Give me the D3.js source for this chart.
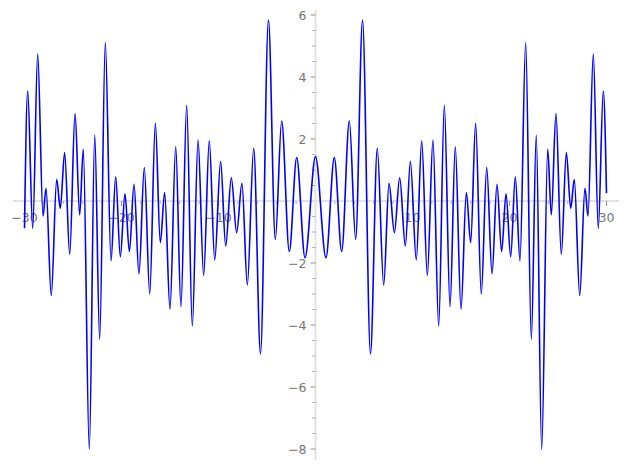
<!DOCTYPE html>
<html>
<head>
<meta charset="utf-8">
<script src="https://cdn.jsdelivr.net/npm/d3@7"></script>
<style>
  body { margin: 0; background: white; }
  text { font-family: "DejaVu Sans", sans-serif; }
</style>
</head>
<body>
<div id="container"></div>
<script>
let w = 627;
let h = 468;

// curve turning points (x, y)
let xs = [
  -30.00, -29.67, -29.15, -28.64, -28.09, -27.78, -27.24, -26.68, -26.31, -25.86,
  -25.34, -24.79, -24.31, -23.94, -23.32, -22.76, -22.25, -21.67, -21.08, -20.60,
  -20.12, -19.64, -19.19, -18.71, -18.20, -17.65, -17.09, -16.51, -16.00, -15.55,
  -15.00, -14.41, -13.87, -13.28, -12.70, -12.11, -11.53, -10.95, -10.39, -9.78,
  -9.26, -8.68, -8.13, -7.58, -7.03, -6.37, -5.67, -4.85, -4.14, -3.49,
  -2.70, -1.94, -1.08, 0.00,
  1.08, 1.94, 2.70, 3.49, 4.14, 4.85, 5.67, 6.37, 7.03, 7.58,
  8.13, 8.68, 9.26, 9.78, 10.39, 10.95, 11.53, 12.11, 12.70, 13.28,
  13.87, 14.41, 15.00, 15.55, 16.00, 16.51, 17.09, 17.65, 18.20, 18.71,
  19.19, 19.64, 20.12, 20.60, 21.08, 21.67, 22.25, 22.76, 23.32, 23.94,
  24.31, 24.79, 25.34, 25.86, 26.31, 26.68, 27.24, 27.78, 28.09, 28.64,
  29.15, 29.67, 30.00
];
let ys = [
  -0.88, 3.55, -0.88, 4.74, -0.48, 0.41, -3.05, 0.70, -0.24, 1.56,
  -1.72, 2.82, -0.45, 1.67, -8.01, 2.13, -4.46, 5.11, -1.93, 0.78,
  -1.80, 0.23, -1.63, 0.54, -2.35, 1.08, -3.00, 2.51, -1.34, 0.27,
  -3.49, 1.75, -3.41, 3.09, -4.03, 1.97, -2.40, 1.94, -1.90, 1.28,
  -1.45, 0.75, -1.02, 0.57, -2.71, 1.70, -4.93, 5.84, -1.24, 2.58,
  -1.63, 1.40, -1.83, 1.43,
  -1.83, 1.40, -1.63, 2.58, -1.24, 5.84, -4.93, 1.70, -2.71, 0.57,
  -1.02, 0.75, -1.45, 1.28, -1.90, 1.94, -2.40, 1.97, -4.03, 3.09,
  -3.41, 1.75, -3.49, 0.27, -1.34, 2.51, -3.00, 1.08, -2.35, 0.54,
  -1.63, 0.23, -1.80, 0.78, -1.93, 5.11, -4.46, 2.13, -8.01, 1.67,
  -0.45, 2.82, -1.72, 1.56, -0.24, 0.70, -3.05, 0.41, -0.48, 4.74,
  -0.88, 3.55, 0.25
];

let xTickLabels = [-30, -20, -10, 10, 20, 30];
let yTickLabels = [-8, -6, -4, -2, 2, 4, 6];

let data = xs.map((x, i) => ({x: x, y: ys[i]}));

let viz = d3.select("#container")
  .append("svg")
  .attr("width", w)
  .attr("height", h)
  .style("background-color", "white");

let xScale = d3.scaleLinear().domain([-30, 30]).range([24.5, 606.5]);
let yScale = d3.scaleLinear().domain([6, -8]).range([15, 449]);

let x0 = xScale(0);
let y0 = yScale(0);

// spines through the origin
viz.append("line")
  .attr("x1", 13).attr("x2", 619)
  .attr("y1", y0).attr("y2", y0)
  .attr("stroke", "#e3e3e3").attr("stroke-width", 2);

viz.append("line")
  .attr("x1", x0).attr("x2", x0)
  .attr("y1", 10).attr("y2", 460)
  .attr("stroke", "#e3e3e3").attr("stroke-width", 2);

// minor ticks
let xMinor = d3.range(-30, 31, 2).filter(d => d % 10 != 0);
viz.selectAll(".xMinor").data(xMinor).enter()
  .append("line")
  .attr("x1", d => xScale(d)).attr("x2", d => xScale(d))
  .attr("y1", y0).attr("y2", y0 + 3)
  .attr("stroke", "#999").attr("stroke-width", 0.8);

let yMinor = d3.range(-8, 6.01, 0.5).filter(d => d % 2 != 0);
viz.selectAll(".yMinor").data(yMinor).enter()
  .append("line")
  .attr("x1", x0 - 3.3).attr("x2", x0)
  .attr("y1", d => yScale(d)).attr("y2", d => yScale(d))
  .attr("stroke", "#999").attr("stroke-width", 0.8);

// major ticks + labels
let fmt = d => (d < 0 ? "\u2212" : "") + Math.abs(d);

viz.selectAll(".xMajor").data(xTickLabels).enter()
  .append("line")
  .attr("x1", d => xScale(d)).attr("x2", d => xScale(d))
  .attr("y1", y0).attr("y2", y0 + 5)
  .attr("stroke", "#888").attr("stroke-width", 0.9);

viz.selectAll(".xLabel").data(xTickLabels).enter()
  .append("text")
  .attr("x", d => xScale(d))
  .attr("y", y0 + 21)
  .attr("text-anchor", "middle")
  .attr("font-size", "12.5px")
  .attr("fill", "#777")
  .text(fmt);

viz.selectAll(".yMajor").data(yTickLabels).enter()
  .append("line")
  .attr("x1", x0 - 5).attr("x2", x0)
  .attr("y1", d => yScale(d)).attr("y2", d => yScale(d))
  .attr("stroke", "#888").attr("stroke-width", 0.9);

viz.selectAll(".yLabel").data(yTickLabels).enter()
  .append("text")
  .attr("x", x0 - 9)
  .attr("y", d => yScale(d) + 4.5)
  .attr("text-anchor", "end")
  .attr("font-size", "12.5px")
  .attr("fill", "#777")
  .text(fmt);

// the curve
let line = d3.line()
  .x(d => xScale(d.x))
  .y(d => yScale(d.y))
  .curve(d3.curveMonotoneX);

viz.append("path")
  .datum(data)
  .attr("d", line)
  .attr("fill", "none")
  .attr("stroke", "blue")
  .attr("stroke-width", 1.6);
</script>
</body>
</html>
